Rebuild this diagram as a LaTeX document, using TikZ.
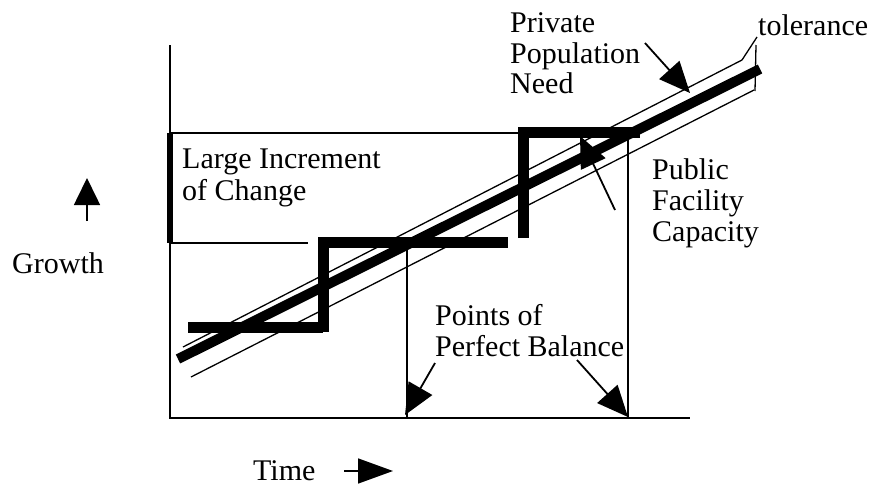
\documentclass[tikz,border=0pt]{standalone}
\usepackage{fontspec}
\setmainfont{Liberation Serif}
\usetikzlibrary{arrows.meta}
\begin{document}
\begin{tikzpicture}[x=1pt,y=-1pt,
  lbl/.style={anchor=base west,inner sep=0pt,font=\fontsize{30}{31}\selectfont},
  axisline/.style={line width=1.6pt},
  frameline/.style={line width=1.4pt},
  thinline/.style={line width=1.3pt},
  thickline/.style={line width=10pt},
  stepline/.style={line width=11pt},
  leader/.style={line width=1.8pt,-{Triangle[length=31pt,width=27pt]}},
]
\useasboundingbox (0,0) rectangle (872,490);

% axes
\coordinate (o) at (170,418);
\coordinate (ytop) at (170,45);
\coordinate (xend) at (690,418);
\draw[axisline] (ytop) -- (o) -- (xend);

% box of large increment
\coordinate (bx1) at (170,133);
\coordinate (bx2) at (518,133);
\coordinate (bx3) at (170,243);
\coordinate (bx4) at (308,243);
\draw[frameline] (bx1) -- (bx2);
\draw[frameline] (bx3) -- (bx4);
\draw[line width=6pt] (bx1) -- (bx3);

% balance verticals
\coordinate (v1t) at (407,242);
\coordinate (v1b) at (407,418);
\coordinate (v2t) at (628,132);
\coordinate (v2b) at (628,418);
\draw[frameline] (v1t) -- (v1b);
\draw[frameline] (v2t) -- (v2b);

% labels
\node[lbl] (privA) at (510,32) {Private};
\node[lbl] (privB) at (510,63) {Population};
\node[lbl] (privC) at (510,93) {Need};
\node[lbl] (tol) at (758,35) {tolerance};
\node[lbl] (large1) at (182,168) {Large Increment};
\node[lbl] (large2) at (182,200) {of Change};
\node[lbl] (pub1) at (652,179) {Public};
\node[lbl] (pub2) at (652,210) {Facility};
\node[lbl] (pub3) at (652,241) {Capacity};
\node[lbl] (pts1) at (435,325) {Points of};
\node[lbl] (pts2) at (435,356) {Perfect Balance};
\node[lbl] (growth) at (12,273) {Growth};
\node[lbl] (time) at (253,480) {Time};

% public facility arrow (under the lines)
\coordinate (pubtail) at (615,210);
\coordinate (pubtip) at (580,136);
\draw[leader] (pubtail) -- (pubtip);

% need and tolerance lines
\coordinate (n1) at (178,359);
\coordinate (n2) at (760,69);
\coordinate (u1) at (183,347);
\coordinate (u2) at (742,60);
\coordinate (l1) at (191,377);
\coordinate (l2) at (754,90);
\draw[thinline] (u1) -- (u2);
\draw[thinline] (l1) -- (l2);
\draw[thickline] (n1) -- (n2);

% tolerance bracket
\coordinate (tolA) at (757,37);
\coordinate (tolB) at (756,45);
\coordinate (tolC) at (755,91);
\draw[thinline] (u2) -- (tolA);
\draw[thinline] (tolB) -- (tolC);

% public facility capacity steps
\coordinate (s1) at (188,327);
\coordinate (s2) at (323,327);
\coordinate (s3) at (323,242);
\coordinate (s4) at (508,242);
\coordinate (s5) at (523,238);
\coordinate (s6) at (523,132);
\coordinate (s7) at (640,132);
\draw[stepline] (s1) -- (s2);
\draw[stepline] (323,332) -- (s3);
\draw[stepline] (318,242) -- (s4);
\draw[stepline] (s5) -- (523,127);
\draw[stepline] (518,132) -- (s7);

% private population need arrow
\coordinate (privtail) at (645,43);
\coordinate (privtip) at (690,93);
\draw[leader] (privtail) -- (privtip);

% balance arrows
\coordinate (b1tail) at (435,363);
\coordinate (b1tip) at (405,415);
\coordinate (b2tail) at (577,360);
\coordinate (b2tip) at (628,417);
\draw[leader] (b1tail) -- (b1tip);
\draw[leader] (b2tail) -- (b2tip);

% growth and time arrows
\coordinate (gtail) at (87,221);
\coordinate (gtip) at (87,178);
\draw[line width=1.6pt,-{Triangle[length=27pt,width=26pt]}] (gtail) -- (gtip);
\coordinate (ttail) at (344,471);
\coordinate (ttip) at (393,471);
\draw[line width=1.6pt,-{Triangle[length=35pt,width=25pt]}] (ttail) -- (ttip);
\end{tikzpicture}
\end{document}
